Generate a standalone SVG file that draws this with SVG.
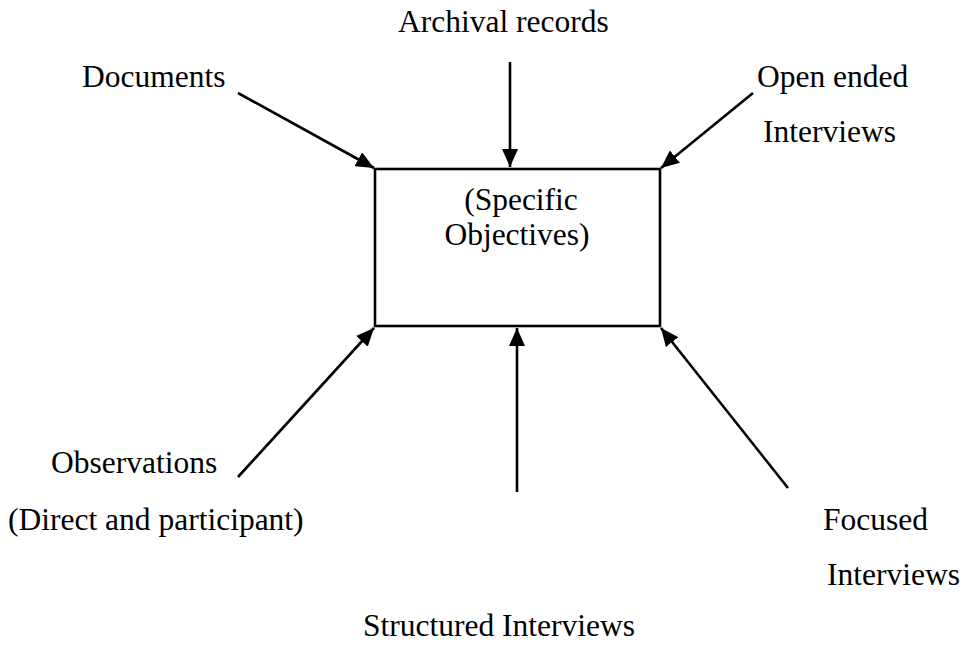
<svg xmlns="http://www.w3.org/2000/svg" width="968" height="645" viewBox="0 0 968 645">
<defs>
<marker id="ah" markerUnits="userSpaceOnUse" markerWidth="20" markerHeight="16" refX="18" refY="8" orient="auto">
<path d="M0,0 L18,8 L0,16 Z" fill="#000"/>
</marker>
<style>
text{font-family:"Liberation Serif","Times New Roman",serif;font-size:31.5px;fill:#000}
.c{stroke:#000;stroke-width:2.6;fill:none;marker-end:url(#ah)}
</style>
</defs>
<rect width="968" height="645" fill="#fff"/>
<g id="center">
<rect x="375" y="169" width="285" height="157" fill="#fff" stroke="#000" stroke-width="2.6"/>
<text x="521" y="210" text-anchor="middle">(Specific</text>
<text x="517" y="245" text-anchor="middle">Objectives)</text>
</g>
<g id="documents"><text x="82" y="87">Documents</text></g>
<g id="archival"><text x="398" y="32">Archival records</text></g>
<g id="openended"><text x="757" y="87">Open ended</text><text x="763" y="142">Interviews</text></g>
<g id="observations"><text x="51" y="473">Observations</text><text x="8" y="530">(Direct and participant)</text></g>
<g id="focused"><text x="823" y="530">Focused</text><text x="827" y="585">Interviews</text></g>
<g id="structured"><text x="363" y="636">Structured Interviews</text></g>
<g id="connectors">
<line class="c" x1="238" y1="93" x2="374" y2="168"/>
<line class="c" x1="510" y1="62" x2="510" y2="167"/>
<line class="c" x1="753" y1="93" x2="661" y2="168"/>
<line class="c" x1="238" y1="477" x2="374" y2="328"/>
<line class="c" x1="517" y1="492" x2="517" y2="328"/>
<line class="c" x1="788" y1="488" x2="661" y2="328"/>
</g>
</svg>
